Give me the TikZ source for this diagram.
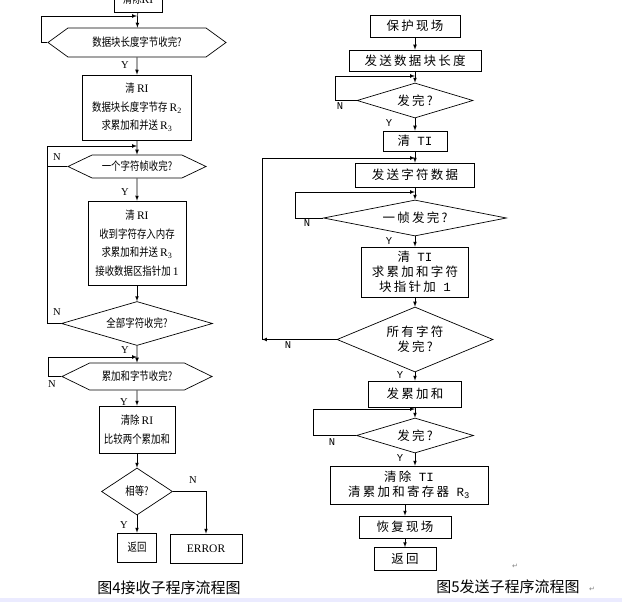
\documentclass[tikz,border=0pt]{standalone}
\usepackage{fontspec}
\setmainfont{Liberation Serif}
\setmonofont{Liberation Mono}
\newfontfamily\cjk{Noto Sans CJK SC}
\newfontfamily\cjkn[FakeStretch=0.82]{Noto Sans CJK SC}
\newfontfamily\cjkw[LetterSpace=18]{Noto Sans CJK SC}
\newfontfamily\symf{DejaVu Sans}
\usepackage{tikz}
\usetikzlibrary{shapes.geometric, shapes.symbols, arrows, positioning}
\tikzstyle{process} = [rectangle, draw=black, line width=0.7pt, inner sep=0pt, align=center]
\tikzstyle{hexagon} = [signal, signal from=nowhere, signal to=east and west, draw=black, line width=0.7pt, inner sep=0pt, align=center]
\tikzstyle{decision} = [diamond, draw=black, line width=0.7pt, inner sep=0pt, align=center]
\tikzstyle{leftfont} = [font=\cjkn\fontsize{11.5}{18.5}\selectfont]
\tikzstyle{rightfont} = [font=\cjkw\fontsize{12.5}{15}\selectfont]
\tikzstyle{leftyn} = [inner sep=0pt, font=\rmfamily\fontsize{10.5}{10.5}\selectfont]
\tikzstyle{rightyn} = [inner sep=0pt, font=\ttfamily\fontsize{10.5}{10.5}\selectfont]
\tikzstyle{figcaption} = [inner sep=0pt, font=\cjk\fontsize{15}{15}\selectfont]
\tikzstyle{parmark} = [inner sep=0pt, text=gray, font=\symf\fontsize{7}{7}\selectfont]
\tikzstyle{arrow} = [line width=0.7pt,->,>=latex]

\begin{document}
\begin{tikzpicture}[x=1pt, y=-1pt]
	\useasboundingbox (0,0) rectangle (622,602);
	\clip (0,0) rectangle (622,602);
	\fill[blue!8] (0,598) rectangle (622,602);
	
	% Nodes for receive routine
	\node (clr0) [process, leftfont, minimum width=48, minimum height=26] at (138,-1) {清除\textrm{RI}};
	\node (chk1) [hexagon, leftfont, minimum width=178, minimum height=29, signal pointer angle=72] at (137,42.5) {数据块长度字节收完?};
	\node (clr1) [process, leftfont, minimum width=109, minimum height=65] at (137,107.5) {清 \textrm{RI}\\数据块长度字节存 \textrm{R\textsubscript{2}}\\求累加和并送 \textrm{R\textsubscript{3}}};
	\node (chk2) [hexagon, leftfont, minimum width=138, minimum height=23, signal pointer angle=51] at (137,166.5) {一个字符帧收完?};
	\node (clr2) [process, leftfont, minimum width=98, minimum height=84] at (137,243) {清 \textrm{RI}\\收到字符存入内存\\求累加和并送 \textrm{R\textsubscript{3}}\\接收数据区指针加 \textrm{1}};
	\node (chk3) [decision, leftfont, minimum width=151, minimum height=44, aspect=3.4] at (137,323.5) {全部字符收完?};
	\node (chk4) [hexagon, leftfont, minimum width=150, minimum height=27, signal pointer angle=52] at (137,376.5) {累加和字节收完?};
	\node (cmp) [process, leftfont, minimum width=76, minimum height=47] at (137,429.5) {清除 \textrm{RI}\\比较两个累加和};
	\node (eq) [decision, leftfont, minimum width=71, minimum height=47, aspect=1.5] at (137,491.5) {相等?};
	\node (ret1) [process, leftfont, minimum width=39, minimum height=29] at (137,547.5) {返回};
	\node (err) [process, leftfont, minimum width=72, minimum height=29] at (206,548.5) {\textrm{ERROR}};
	
	% Loop points for receive routine
	\coordinate (j1) at (137,16);
	\coordinate (k1) at (41,16);
	\coordinate (j2) at (137,146);
	\coordinate (k2) at (47,146);
	\coordinate (j3) at (137,357);
	\coordinate (k3) at (48,357);
	
	% Arrows for receive routine
	\draw [arrow] (clr0) -- (chk1);
	\draw [arrow] (chk1) -- (clr1);
	\draw [arrow] (clr1) -- (chk2);
	\draw [arrow] (chk2) -- (clr2);
	\draw [arrow] (clr2) -- (chk3);
	\draw [arrow] (chk3) -- (chk4);
	\draw [arrow] (chk4) -- (cmp);
	\draw [arrow] (cmp) -- (eq);
	\draw [arrow] (eq) -- (ret1);
	\draw [arrow] (eq.east) -| (err.north);
	\draw [arrow] (chk1.west) -| (k1) -- (j1);
	\draw [arrow] (chk3.west) -| (k2) -- (j2);
	\draw (chk2.west) -- (chk2.west -| k2);
	\draw [arrow] (chk4.west) -| (k3) -- (j3);
	
	% Labels for receive routine
	\node (y1) [leftyn] at (125,65) {Y};
	\node (y2) [leftyn] at (125,192) {Y};
	\node (y3) [leftyn] at (125,350) {Y};
	\node (y4) [leftyn] at (124,402) {Y};
	\node (y5) [leftyn] at (124,525) {Y};
	\node (n1) [leftyn] at (57,157) {N};
	\node (n2) [leftyn] at (57,312) {N};
	\node (n3) [leftyn] at (52,384) {N};
	\node (n4) [leftyn] at (193,480) {N};
	
	% Nodes for send routine
	\node (save) [process, rightfont, minimum width=90, minimum height=22] at (415,26) {保护现场};
	\node (sendlen) [process, rightfont, minimum width=132, minimum height=21] at (415,60.5) {发送数据块长度};
	\node (done1) [decision, rightfont, minimum width=116, minimum height=35, aspect=3.3] at (415,100.5) {发完?};
	\node (clrti) [process, rightfont, minimum width=64, minimum height=20] at (415,141) {清 \texttt{TI}};
	\node (sendch) [process, rightfont, minimum width=119, minimum height=24] at (415,175) {发送字符数据};
	\node (frame) [decision, rightfont, minimum width=183, minimum height=36, aspect=5] at (415,218) {一帧发完?};
	\node (sum) [process, rightfont, minimum width=107, minimum height=50] at (415,272) {清 \texttt{TI}\\求累加和字符\\块指针加 \texttt{1}};
	\node (all) [decision, rightfont, minimum width=156, minimum height=65, aspect=2.4] at (415,339.5) {所有字符\\发完?};
	\node (sendsum) [process, rightfont, minimum width=93, minimum height=26] at (415,394) {发累加和};
	\node (done2) [decision, rightfont, minimum width=117, minimum height=35, aspect=3.3] at (415,435.5) {发完?};
	\node (clrsum) [process, rightfont, minimum width=158, minimum height=38] at (409,485) {清除 \texttt{TI}\\清累加和寄存器 \texttt{R\textsubscript{3}}};
	\node (restore) [process, rightfont, minimum width=92, minimum height=22] at (405,527) {恢复现场};
	\node (ret2) [process, rightfont, minimum width=62, minimum height=23] at (405,559) {返回};
	
	% Loop points for send routine
	\coordinate (m1) at (415,76);
	\coordinate (p1) at (335,76);
	\coordinate (m2) at (415,158);
	\coordinate (p2) at (262,158);
	\coordinate (q2) at (262,339.5);
	\coordinate (m3) at (415,192);
	\coordinate (p3) at (295,192);
	\coordinate (m4) at (415,409);
	\coordinate (p4) at (313,409);
	
	% Arrows for send routine
	\draw [arrow] (save) -- (sendlen);
	\draw [arrow] (sendlen) -- (done1);
	\draw [arrow] (done1) -- (clrti);
	\draw [arrow] (clrti) -- (sendch);
	\draw [arrow] (sendch) -- (frame);
	\draw [arrow] (frame) -- (sum);
	\draw [arrow] (sum) -- (all);
	\draw [arrow] (all) -- (sendsum);
	\draw [arrow] (sendsum) -- (done2);
	\draw [arrow] (done2.south) -- (done2.south |- clrsum.north);
	\draw [arrow] (clrsum.south -| restore) -- (restore);
	\draw [arrow] (restore) -- (ret2);
	\draw [arrow] (done1.west) -| (p1) -- (m1);
	\draw [arrow] (frame.west) -| (p3) -- (m3);
	\draw [arrow] (all.west) -- (q2);
	\draw [arrow] (q2) -- (p2) -- (m2);
	\draw [arrow] (done2.west) -| (p4) -- (m4);
	
	% Labels for send routine
	\node (ya) [rightyn] at (389,123) {Y};
	\node (yb) [rightyn] at (389,241) {Y};
	\node (yc) [rightyn] at (400,375) {Y};
	\node (yd) [rightyn] at (400,458) {Y};
	\node (na) [rightyn] at (340,106) {N};
	\node (nb) [rightyn] at (307,223) {N};
	\node (nc) [rightyn] at (288,345) {N};
	\node (nd) [rightyn] at (332,442) {N};
	
	% Captions
	\node (cap4) [figcaption] at (169,588) {图4接收子程序流程图};
	\node (cap5) [figcaption] at (508,587) {图5发送子程序流程图};
	\node (pm1) [parmark] at (592,589) {↵};
	\node (pm2) [parmark] at (515,566) {↵};
	
\end{tikzpicture}
\end{document}
